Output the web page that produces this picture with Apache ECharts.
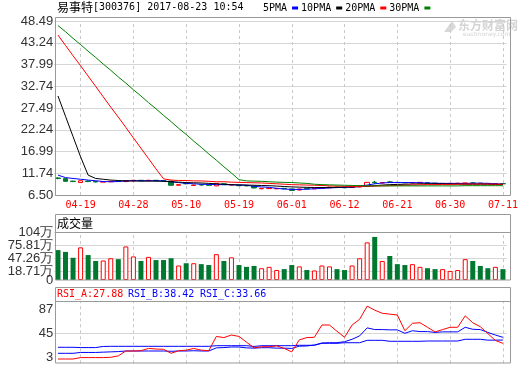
<!DOCTYPE html>
<html><head><meta charset="utf-8">
<script src="https://cdn.jsdelivr.net/npm/echarts@6/dist/echarts.min.js"></script>
<style>html,body{margin:0;padding:0;background:#fff}#c{width:520px;height:365px}</style>
</head><body><div id="c"></div>
<script>
// ---------- data ----------
const dates = ['04-14','04-17','04-18','04-19','04-20','04-21','04-24','04-25','04-26','04-27',
 '04-28','05-02','05-03','05-04','05-05','05-08','05-09','05-10','05-11','05-12',
 '05-15','05-16','05-17','05-18','05-19','05-22','05-23','05-24','05-25','05-26',
 '05-31','06-01','06-02','06-05','06-06','06-07','06-08','06-09','06-12','06-13',
 '06-14','06-15','06-16','06-19','06-20','06-21','06-22','06-23','06-26','06-27',
 '06-28','06-29','06-30','07-03','07-04','07-05','07-06','07-07','07-10','07-11'];
const labelDates = ['04-19','04-28','05-10','05-19','06-01','06-12','06-21','06-30','07-11'];

const openP  = [10.6,10.45,9.85,9.5,9.85,9.75,9.6,9.7,9.85,9.75, 9.9,10.05,9.95,10.05,10.0,9.85,8.85,9.3,8.8,9.0,
 8.95,8.7,9.2,8.9,8.85,8.8,8.65,8.0,8.05,8.0, 8.1,7.95,7.7,8.1,8.0,8.1,8.25,8.4,8.35,8.3,
 8.45,8.6,9.6,9.4,9.65,9.55,9.5,9.4,9.45,9.45, 9.35,9.2,9.25,9.25,9.25,9.4,9.35,9.3,9.2,9.25];
const closeP = [10.5,9.8,9.75,9.95,9.75,9.65,9.75,9.8,9.75,9.95, 10.05,9.95,10.05,9.95,9.9,8.85,9.0,9.2,8.9,8.9,
 8.85,9.3,9.0,9.0,8.75,8.7,8.2,8.1,8.15,8.1, 8.0,7.6,7.95,8.0,8.1,8.3,8.4,8.3,8.25,8.5,
 8.75,9.55,9.5,9.5,9.6,9.5,9.45,9.5,9.55,9.35, 9.25,9.3,9.3,9.35,9.4,9.35,9.3,9.25,9.25,9.2];
const lowP   = [10.3,9.7,9.6,9.4,9.6,9.55,9.55,9.6,9.65,9.6, 9.8,9.85,9.9,9.9,9.8,8.8,8.75,9.1,8.7,8.8,
 8.8,8.65,8.9,8.8,8.65,8.6,8.1,7.9,7.95,7.9, 7.9,7.5,7.6,7.9,7.95,8.05,8.2,8.25,8.2,8.25,
 8.4,8.55,9.2,9.3,9.4,9.4,9.4,9.35,9.4,9.3, 9.2,9.15,9.2,9.2,9.2,9.3,9.25,9.2,9.15,9.1];
const highP  = [10.8,10.5,9.95,10.0,10.0,9.85,9.85,9.9,9.9,10.1, 10.15,10.1,10.15,10.1,10.05,9.9,9.1,9.4,9.0,9.1,
 9.0,9.35,9.25,9.1,8.9,8.85,8.7,8.2,8.25,8.2, 8.15,8.0,8.0,8.15,8.2,8.35,8.45,8.45,8.4,8.55,
 8.8,9.6,9.9,9.55,9.9,9.6,9.55,9.55,9.6,9.5, 9.4,9.35,9.35,9.4,9.45,9.55,9.4,9.35,9.3,9.3];

const volume = [66,62,49,72,55,42,43,48,46,74, 52,42,51,44,44,48,32,37,37,35,
 33,57,42,50,33,29,31,26,29,22, 24,33,30,22,21,32,30,24,22,32,
 48,83,95,42,53,35,33,35,29,26, 24,24,20,22,46,42,31,26,29,24];

const ma5  = [11.3,10.7,10.5,10.3,10.1,9.95,9.75,9.7,9.75,9.9, 9.95,9.95,9.95,9.95,9.9,9.7,9.5,9.3,9.2,9.1,
 9.05,9.0,9.0,8.95,8.9,8.85,8.6,8.45,8.35,8.1, 7.95,7.85,7.85,7.9,8.0,8.1,8.2,8.3,8.35,8.4,
 8.6,8.9,9.2,9.4,9.5,9.5,9.5,9.5,9.45,9.4, 9.35,9.3,9.3,9.3,9.3,9.35,9.35,9.3,9.2,9.15];
const ma10 = [30.4,25.5,20.6,15.7,11.3,10.5,10.3,10.1,10.0,9.9, 9.9,9.85,9.85,9.85,9.8,9.7,9.6,9.5,9.45,9.4,
 9.3,9.2,9.1,9.0,8.95,8.9,8.85,8.8,8.75,8.65, 8.55,8.45,8.4,8.35,8.3,8.3,8.3,8.35,8.4,8.45,
 8.5,8.6,8.75,8.9,9.0,9.05,9.1,9.15,9.2,9.2, 9.2,9.2,9.15,9.15,9.1,9.1,9.1,9.1,9.05,9.0];
const ma20 = [45.1,42.6,40.1,37.7,35.2,32.7,30.2,27.7,25.3,22.8, 20.3,17.8,15.3,12.8,10.4,10.1,10.0,10.0,9.9,9.9,
 9.8,9.7,9.7,9.6,9.55,9.5,9.45,9.4,9.3,9.2, 9.1,9.0,8.95,8.9,8.85,8.8,8.7,8.65,8.6,8.55,
 8.55,8.6,8.65,8.7,8.75,8.8,8.85,8.9,8.95,9.0, 9.0,9.05,9.05,9.1,9.15,9.15,9.15,9.15,9.1,9.1];
const ma30 = [47.4,45.9,44.3,42.8,41.2,39.7,38.1,36.6,35.0,33.5, 31.9,30.4,28.8,27.3,25.7,24.2,22.6,21.1,19.5,18.0,
 16.4,14.9,13.3,11.8,10.2,9.9,9.85,9.8,9.7,9.6, 9.55,9.5,9.4,9.3,9.1,9.0,8.95,8.9,8.85,8.8,
 8.75,8.7,8.7,8.7,8.7,8.7,8.7,8.7,8.7,8.7, 8.7,8.7,8.7,8.7,8.75,8.75,8.75,8.75,8.75,8.75];

const rsiA = [0.5,0.5,0.5,3,3,3,3,3.5,6,14.5, 14.5,15,19,18,17.5,10.5,15,16,19,16,
 15,40,38,42.5,40,30,20,22,22,23.5, 19,13,34,38,38.5,60,60,49,38.5,60,
 70,93,86,80.5,79,77.5,50,63,64,56, 48,52,56,56,76,64,57,45,33,27.88];
const rsiB = [10.5,10.5,10.5,12,12,12,12.5,13,13.5,14.5, 14.5,14.5,14.5,14.5,14.5,14,14.5,14.5,15,14.5,
 14.5,20,20.5,21.5,21.5,20,19.5,20.3,20.3,19.5, 19.5,19,23,23.3,25,28.5,29,29,30.8,35,
 41,55,52,52,51.5,51.5,45.5,50,48.5,48.5, 47,48,48,48,56,52.5,52,47,42.5,38.42];
const rsiC = [21,21,21,20.5,20.5,20.5,22.5,22.7,22.7,22.7, 22.7,22.7,22.7,22.7,22.7,22.7,22.7,22.7,22.7,22.7,
 22.7,23.8,23.8,23.8,23.8,23.8,22.5,23.8,23.8,23.8, 23.8,23.8,24.5,24.5,24.5,28,28,28,29,29,
 29,33.2,33.2,33.2,31.5,31.5,31.5,31.5,31.5,32, 32,32,32,32,35,35,35,33.5,33.5,33.66];

const priceTicks = [6.50,11.74,16.99,22.24,27.49,32.74,37.99,43.24,48.49];
const volTicks = [18.71,47.26,75.81,104.36];
const volZeroTick = [0];
const rsiTicks = [3,45,87];

// ---------- styles ----------
const RED = '#ff0000', GREEN = '#00782f', BLUE = '#0000ff';
const GRID_L = 54.2, GRID_W = 452.5;
const MONO = 'DejaVu Sans Mono';
const labelSet = new Set(labelDates);

const candles = dates.map((d, i) => [openP[i], closeP[i], lowP[i], highP[i]]);
const volItems = volume.map((v, i) => {
  const up = closeP[i] >= openP[i];
  return { value: v, itemStyle: up ? { color: '#ffffff', borderColor: RED, borderWidth: 1 } : { color: GREEN, borderColor: GREEN, borderWidth: 0 } };
});

const vDashData = labelDates.map(d => ({ xAxis: d }));
function vMark(extra) {
  return {
    silent: true, symbol: ['none', 'none'], z: 1, animation: false,
    label: { show: false }, emphasis: { disabled: true },
    lineStyle: { color: '#c8c8c8', type: [3, 3], width: 1 },
    data: vDashData.concat(extra || [])
  };
}

function xAxisCfg(gi, showLabel) {
  return {
    type: 'category', gridIndex: gi, data: dates, boundaryGap: true,
    axisLine: { show: false }, axisTick: { show: false }, splitLine: { show: false },
    axisLabel: showLabel ? {
      interval: (i) => labelSet.has(dates[i]), color: RED,
      fontFamily: MONO, fontSize: 10, margin: 5
    } : { show: false }
  };
}
const leftLabel = { fontFamily: 'Liberation Sans', fontSize: 13, color: '#333', margin: 1, showMinLabel: true, showMaxLabel: true, hideOverlap: false };
const volFmt = v => v === 0 ? '0' : (v >= 100 ? String(Math.floor(v)) : v.toFixed(2)) + '万';

const chart = echarts.init(document.getElementById('c'), null, { renderer: 'canvas' });
chart.setOption({
  animation: false,
  backgroundColor: '#fff',
  grid: [
    { left: GRID_L, width: GRID_W, top: 21, height: 174, containLabel: false, outerBoundsMode: 'none' },
    { left: GRID_L, width: GRID_W, top: 232.7, height: 47.3, containLabel: false, outerBoundsMode: 'none' },
    { left: GRID_L, width: GRID_W, top: 301, height: 62.3, containLabel: false, outerBoundsMode: 'none' }
  ],
  legend: {
    data: ['5PMA', '10PMA', '20PMA', '30PMA'], left: 263, top: 3, align: 'right',
    icon: 'rect', itemWidth: 6, itemHeight: 3, itemGap: 3, selectedMode: false, padding: 0,
    textStyle: { fontFamily: MONO, fontSize: 10, color: '#000' }
  },
  xAxis: [xAxisCfg(0, true), xAxisCfg(1, false), xAxisCfg(2, false)],
  yAxis: [
    { type: 'value', gridIndex: 0, min: 6.5, max: 48.49,
      axisLine: { show: false }, axisTick: { show: false, customValues: priceTicks },
      axisLabel: Object.assign({ customValues: priceTicks, formatter: v => v.toFixed(2) }, leftLabel),
      splitLine: { show: true, lineStyle: { color: '#d6d6d6', width: 1 } } },
    { type: 'value', gridIndex: 1, min: 0, max: 104.36,
      axisLine: { show: false }, axisTick: { show: false, customValues: volTicks },
      axisLabel: Object.assign({ customValues: volTicks, formatter: volFmt }, leftLabel),
      splitLine: { show: true, lineStyle: { color: '#d6d6d6', width: 1 } } },
    { type: 'value', gridIndex: 2, min: -7, max: 102,
      axisLine: { show: false }, axisTick: { show: false, customValues: rsiTicks },
      axisLabel: Object.assign({ customValues: rsiTicks, formatter: v => String(v) }, leftLabel),
      splitLine: { show: false } },
    { type: 'value', gridIndex: 1, min: 0, max: 104.36, position: 'left', offset: 0,
      axisLine: { show: false }, axisTick: { show: false, customValues: volZeroTick },
      axisLabel: Object.assign({ customValues: volZeroTick, formatter: volFmt }, leftLabel),
      splitLine: { show: false } }
  ],
  series: [
    { type: 'candlestick', name: 'K', xAxisIndex: 0, yAxisIndex: 0, data: candles, barWidth: 5, z: 2,
      itemStyle: { color: '#ffffff', color0: GREEN, borderColor: RED, borderColor0: GREEN, borderWidth: 1 },
      markLine: vMark() },
    { type: 'line', name: '5PMA', xAxisIndex: 0, yAxisIndex: 0, data: ma5, color: BLUE, symbol: 'none', lineStyle: { width: 1, color: BLUE }, z: 4 },
    { type: 'line', name: '10PMA', xAxisIndex: 0, yAxisIndex: 0, data: ma10, color: '#000000', symbol: 'none', lineStyle: { width: 1, color: '#000000' }, z: 4 },
    { type: 'line', name: '20PMA', xAxisIndex: 0, yAxisIndex: 0, data: ma20, color: RED, symbol: 'none', lineStyle: { width: 1, color: RED }, z: 4 },
    { type: 'line', name: '30PMA', xAxisIndex: 0, yAxisIndex: 0, data: ma30, color: '#008000', symbol: 'none', lineStyle: { width: 1, color: '#008000' }, z: 4 },
    { type: 'bar', name: 'VOL', xAxisIndex: 1, yAxisIndex: 1, data: volItems, barWidth: 5, z: 2, markLine: vMark() },
    { type: 'line', name: 'RSI_A', xAxisIndex: 2, yAxisIndex: 2, data: rsiA, color: RED, symbol: 'none', lineStyle: { width: 1, color: RED }, z: 4,
      markLine: vMark([{ yAxis: 45, lineStyle: { type: 'solid', color: '#d6d6d6' } }]) },
    { type: 'line', name: 'RSI_B', xAxisIndex: 2, yAxisIndex: 2, data: rsiB, color: BLUE, symbol: 'none', lineStyle: { width: 1, color: BLUE }, z: 3 },
    { type: 'line', name: 'RSI_C', xAxisIndex: 2, yAxisIndex: 2, data: rsiC, color: BLUE, symbol: 'none', lineStyle: { width: 1, color: BLUE }, z: 3 }
  ],
  graphic: [
    // frames
    { type: 'rect', silent: true, z: 50, shape: { x: 55.5, y: 17.5, width: 455, height: 178 }, style: { fill: 'none', stroke: '#999', lineWidth: 1 } },
    { type: 'rect', silent: true, z: 50, shape: { x: 55.5, y: 214.5, width: 455, height: 65.5 }, style: { fill: 'none', stroke: '#999', lineWidth: 1 } },
    { type: 'line', silent: true, z: 50, shape: { x1: 55.5, y1: 232.5, x2: 510.5, y2: 232.5 }, style: { stroke: '#999', lineWidth: 1 } },
    { type: 'rect', silent: true, z: 50, shape: { x: 55.5, y: 287.5, width: 455, height: 75.5 }, style: { fill: 'none', stroke: '#999', lineWidth: 1 } },
    { type: 'line', silent: true, z: 50, shape: { x1: 55.5, y1: 301.5, x2: 510.5, y2: 301.5 }, style: { stroke: '#999', lineWidth: 1 } },
    // header
    { type: 'text', silent: true, z: 50, style: { text: '易事特', x: 57, y: 7, font: '12px "Noto Sans CJK SC"', fill: '#000', textVerticalAlign: 'middle', verticalAlign: 'middle' } },
    { type: 'text', silent: true, z: 50, style: { text: '[300376] 2017-08-23 10:54', x: 93, y: 7.5, font: '10px "DejaVu Sans Mono"', fill: '#000', textVerticalAlign: 'middle', verticalAlign: 'middle' } },
    // watermark
    { type: 'polygon', silent: true, z: 1, shape: { points: [[444, 32], [452, 21], [456, 27], [451, 32]] }, style: { fill: '#d8d8d8' } },
    { type: 'text', silent: true, z: 1, style: { text: '东方财富网', x: 458, y: 25, font: 'bold 12px "Noto Sans CJK SC"', fill: '#d4d4d4', textVerticalAlign: 'middle', verticalAlign: 'middle' } },
    { type: 'text', silent: true, z: 1, style: { text: 'eastmoney.com', x: 463, y: 34, font: '6px "DejaVu Sans"', fill: '#d4d4d4', textVerticalAlign: 'middle', verticalAlign: 'middle' } },
    // panel titles
    { type: 'text', silent: true, z: 50, style: { text: '成交量', x: 57, y: 223, font: '12px "Noto Sans CJK SC"', fill: '#000', textVerticalAlign: 'middle', verticalAlign: 'middle' } },
    { type: 'text', silent: true, z: 50, style: { text: 'RSI_A:' + rsiA[rsiA.length - 1].toFixed(2), x: 57, y: 294.5, font: '10px "DejaVu Sans Mono"', fill: RED, textVerticalAlign: 'middle', verticalAlign: 'middle' } },
    { type: 'text', silent: true, z: 50, style: { text: 'RSI_B:' + rsiB[rsiB.length - 1].toFixed(2), x: 128, y: 294.5, font: '10px "DejaVu Sans Mono"', fill: BLUE, textVerticalAlign: 'middle', verticalAlign: 'middle' } },
    { type: 'text', silent: true, z: 50, style: { text: 'RSI_C:' + rsiC[rsiC.length - 1].toFixed(2), x: 200, y: 294.5, font: '10px "DejaVu Sans Mono"', fill: BLUE, textVerticalAlign: 'middle', verticalAlign: 'middle' } }
  ]
});
</script>
</body></html>
